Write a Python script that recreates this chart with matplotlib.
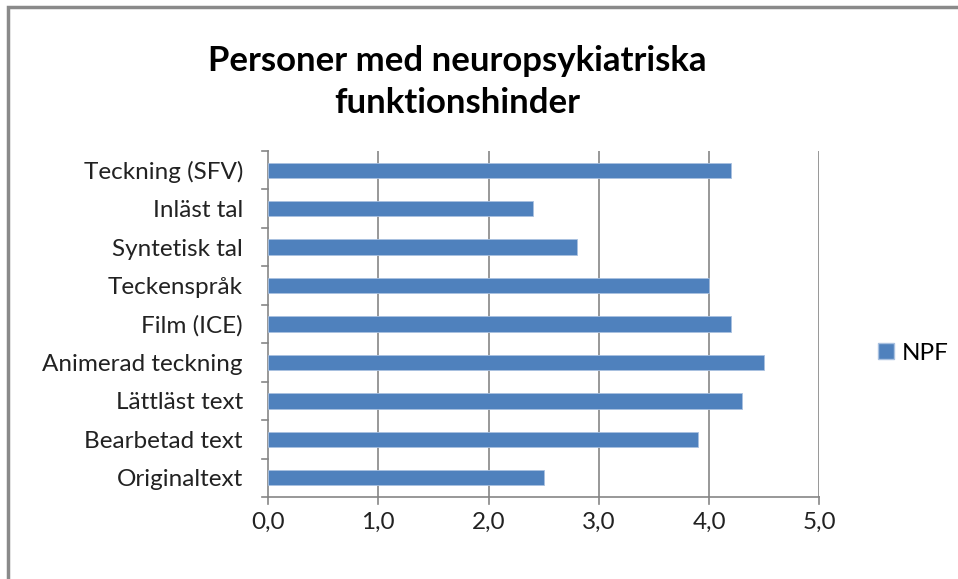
import matplotlib
matplotlib.use("Agg")
import matplotlib.pyplot as plt
from matplotlib.patches import Rectangle
from matplotlib.lines import Line2D

categories = ["Originaltext", "Bearbetad text", "Lättläst text", "Animerad teckning",
              "Film (ICE)", "Teckenspråk", "Syntetisk tal", "Inläst tal", "Teckning (SFV)"]
values = [2.5, 3.9, 4.3, 4.5, 4.2, 4.0, 2.8, 2.4, 4.2]
series_name = "NPF"
xticks = [0, 1, 2, 3, 4, 5]
xtick_labels = ["0,0", "1,0", "2,0", "3,0", "4,0", "5,0"]
title = "Personer med neuropsykiatriska\nfunktionshinder"

W, H = 958, 579
fig = plt.figure(figsize=(W/100, H/100), dpi=100)
plt.rcParams['font.family'] = ['Lato', 'DejaVu Sans']

# outer border (top and left visible)
fig.patches.append(Rectangle((8/W, -0.1), 1.2, (H-7)/H + 0.1, transform=fig.transFigure,
                             fill=False, edgecolor='#8a8a8a', linewidth=2.5))

ax = fig.add_axes([268/W, (H-497)/H, (819.5-268)/W, (497-151)/H])
grid_c = '#868686'
ypos = list(range(len(categories)))
ax.barh(ypos, values, height=0.4, color='#4F81BD', edgecolor='#a9c1e0', linewidth=0.6,
        label=series_name, zorder=3)
ax.set_xlim(0, 5)
ax.set_ylim(-0.5, len(categories) - 0.5)
ax.set_xticks(xticks)
ax.set_xticklabels(xtick_labels, fontsize=17.5, color='#222222')
ax.set_yticks(ypos)
ax.set_yticklabels(categories, fontsize=17.5, color='#222222')
ax.tick_params(axis='y', length=0, pad=18)
ax.tick_params(axis='x', length=0, pad=11)
# category boundary ticks
for b in [i - 0.5 for i in range(len(categories) + 1)]:
    ax.plot([-0.055, 0], [b, b], color=grid_c, lw=1.2, clip_on=False, zorder=4)
for t in xticks:
    ax.plot([t, t], [-0.5, -0.5 - 0.17], color=grid_c, lw=1.2, clip_on=False, zorder=4)
    if t > 0:
        ax.axvline(t, color=grid_c, lw=1.2, zorder=1)
for s in ['top', 'right']:
    ax.spines[s].set_visible(False)
for s in ['left', 'bottom']:
    ax.spines[s].set_color(grid_c)
    ax.spines[s].set_linewidth(1.2)

fig.text(457/W, 1 - 82/H, title, ha='center', va='center', fontsize=25, fontweight='bold',
         linespacing=1.35, color='#000000')

handle = Line2D([], [], marker='s', linestyle='none', markersize=11,
                markerfacecolor='#4F81BD', markeredgecolor='#a9c1e0')
fig.legend([handle], [series_name], loc='center left', bbox_to_anchor=(857/W, 1 - 353/H),
           frameon=False, fontsize=17.5, handletextpad=0.15, handlelength=1.0,
           borderpad=0.2)

fig.savefig("out.png", dpi=100)
